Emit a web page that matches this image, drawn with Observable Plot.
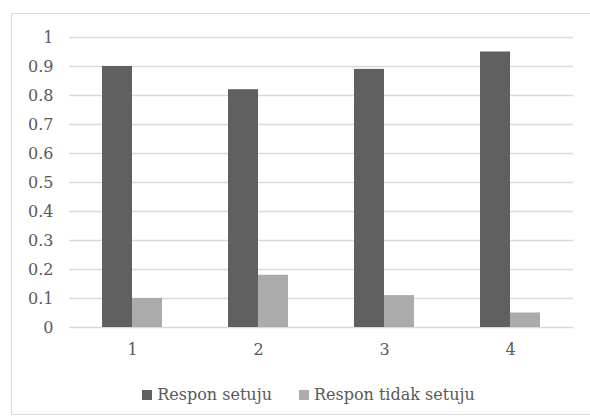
<!DOCTYPE html>
<html>
<head>
<meta charset="utf-8">
<script src="https://cdn.jsdelivr.net/npm/d3@7"></script>
<script src="https://cdn.jsdelivr.net/npm/@observablehq/plot@0.6"></script>
<style>
  html, body { margin: 0; padding: 0; background: #fff; }
  #frame { position: absolute; left: 11px; top: 13px; width: 580px; height: 402px; border: 1px solid #d9d9d9; box-sizing: border-box; }
  #chart { position: absolute; left: 0; top: 0; }
  #legend { position: absolute; left: 0; top: 385px; width: 590px; display: flex; justify-content: center; gap: 27px;
            font-family: "DejaVu Serif", serif; font-size: 16px; color: #595959; padding-left: 27px; box-sizing: border-box; }
  #legend span.item { display: flex; align-items: center; }
  #legend span.sw { display: inline-block; width: 10px; height: 10px; margin-right: 5px; }
</style>
</head>
<body>
<div id="frame"></div>
<div id="chart"></div>
<div id="legend"></div>
<script>
const groups = ["1", "2", "3", "4"];
const series = ["Respon setuju", "Respon tidak setuju"];
const setuju = [0.9, 0.82, 0.89, 0.95];
const tidakSetuju = [0.1, 0.18, 0.11, 0.05];
const yTicks = [0, 0.1, 0.2, 0.3, 0.4, 0.5, 0.6, 0.7, 0.8, 0.9, 1];
const colors = ["#606060", "#ababab"];

const data = [];
groups.forEach((g, i) => {
  data.push({group: g, series: series[0], value: setuju[i]});
  data.push({group: g, series: series[1], value: tidakSetuju[i]});
});

const plot = Plot.plot({
  width: 590,
  height: 360,
  marginTop: 37,
  marginBottom: 33,
  marginLeft: 68,
  marginRight: 16,
  style: {fontFamily: "'DejaVu Serif', serif", fontSize: "16px", color: "#595959", background: "transparent"},
  fx: {domain: groups, padding: 0, label: null, axis: null},
  x: {domain: series, paddingInner: 0, paddingOuter: 1.1, axis: null},
  y: {domain: [0, 1], label: null, axis: null},
  color: {domain: series, range: colors},
  marks: [
    Plot.ruleY(yTicks, {stroke: "#d9d9d9", strokeWidth: 1.5}),
    Plot.barY(data, {fx: "group", x: "series", y: "value", fill: "series"}),
    Plot.axisY(yTicks, {tickSize: 0, tickPadding: 16, tickFormat: d => String(+d.toFixed(1)), label: null, fontSize: 16}),
    Plot.axisFx({anchor: "bottom", tickSize: 0, tickPadding: 16, label: null, fontSize: 16})
  ]
});
document.getElementById("chart").appendChild(plot);

const legend = document.getElementById("legend");
series.forEach((s, i) => {
  const item = document.createElement("span");
  item.className = "item";
  const sw = document.createElement("span");
  sw.className = "sw";
  sw.style.background = colors[i];
  item.appendChild(sw);
  item.appendChild(document.createTextNode(s));
  legend.appendChild(item);
});
</script>
</body>
</html>
